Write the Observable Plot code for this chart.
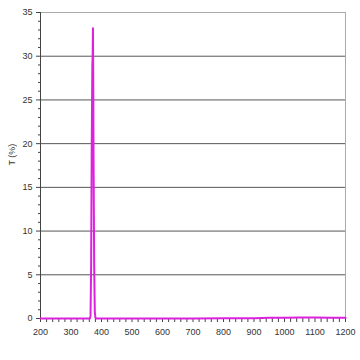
<!DOCTYPE html>
<html><head><meta charset="utf-8">
<script src="https://cdn.jsdelivr.net/npm/d3@7"></script>
<script src="https://cdn.jsdelivr.net/npm/@observablehq/plot@0.6"></script>
<style>
body{margin:0;background:#fff;}
svg{font-family:"Liberation Sans",Arial,sans-serif;}
</style></head>
<body><div id="chart"></div>
<script>
const wavelength = [200,250,300,340,355,362,364,366,368,370,371,372,373,374,376,378,380,382,390,450,500,600,700,800,900,950,1000,1050,1100,1150,1200];
const transmission = [0,0,0,0,0,0,0.3,6,20,29,30,33.2,27,18,6,0.8,0.1,0,0,0,0,0,0,0.02,0.03,0.08,0.1,0.12,0.12,0.1,0.1];
const yMajor = [0,5,10,15,20,25,30,35];
const yGrid = [5,10,15,20,25,30];
const yMinor = d3.range(0,35.01,1).filter(v => v % 5 !== 0);
const xMajor = [200,300,400,500,600,700,800,900,1000,1100,1200];
const xMinor = d3.range(200,1200.01,20).filter(v => v % 100 !== 0);

const data = wavelength.map((w,i)=>({w, t: transmission[i]}));

const chart = Plot.plot({
  width: 360, height: 360,
  marginLeft: 40, marginRight: 15, marginTop: 12, marginBottom: 42,
  style: {fontSize: "9px", color: "#333", background: "#fff"},
  x: {type: "linear", domain: [200,1200]},
  y: {type: "linear", domain: [0,35]},
  marks: [
    Plot.ruleY(yGrid, {stroke: "#555", strokeWidth: 1, strokeOpacity: 1}),
    Plot.ruleY([35], {stroke: "#aaa", strokeOpacity: 1}),
    Plot.ruleX([1200], {stroke: "#aaa", strokeOpacity: 1}),
    Plot.axisY({ticks: yMajor, tickSize: 4, tickPadding: 4, label: null, stroke: "#444"}),
    Plot.axisY({ticks: yMinor, tickSize: 2, text: null, label: null, stroke: "#444"}),
    Plot.axisX({ticks: xMajor, tickSize: 4, tickPadding: 6, tickFormat: "d", label: null, stroke: "#444"}),
    Plot.axisX({ticks: xMinor, tickSize: 4, text: null, label: null, stroke: "#444"}),
    Plot.ruleX([200], {stroke: "#444", strokeOpacity: 1}),
    Plot.text(["T (%)"], {frameAnchor: "left", dx: -28, rotate: -90, fontSize: 9, fill: "#333"}),
    Plot.line(data, {x: "w", y: "t", stroke: "#dd22dd", strokeWidth: 2})
  ]
});
document.getElementById("chart").append(chart);
</script></body></html>
